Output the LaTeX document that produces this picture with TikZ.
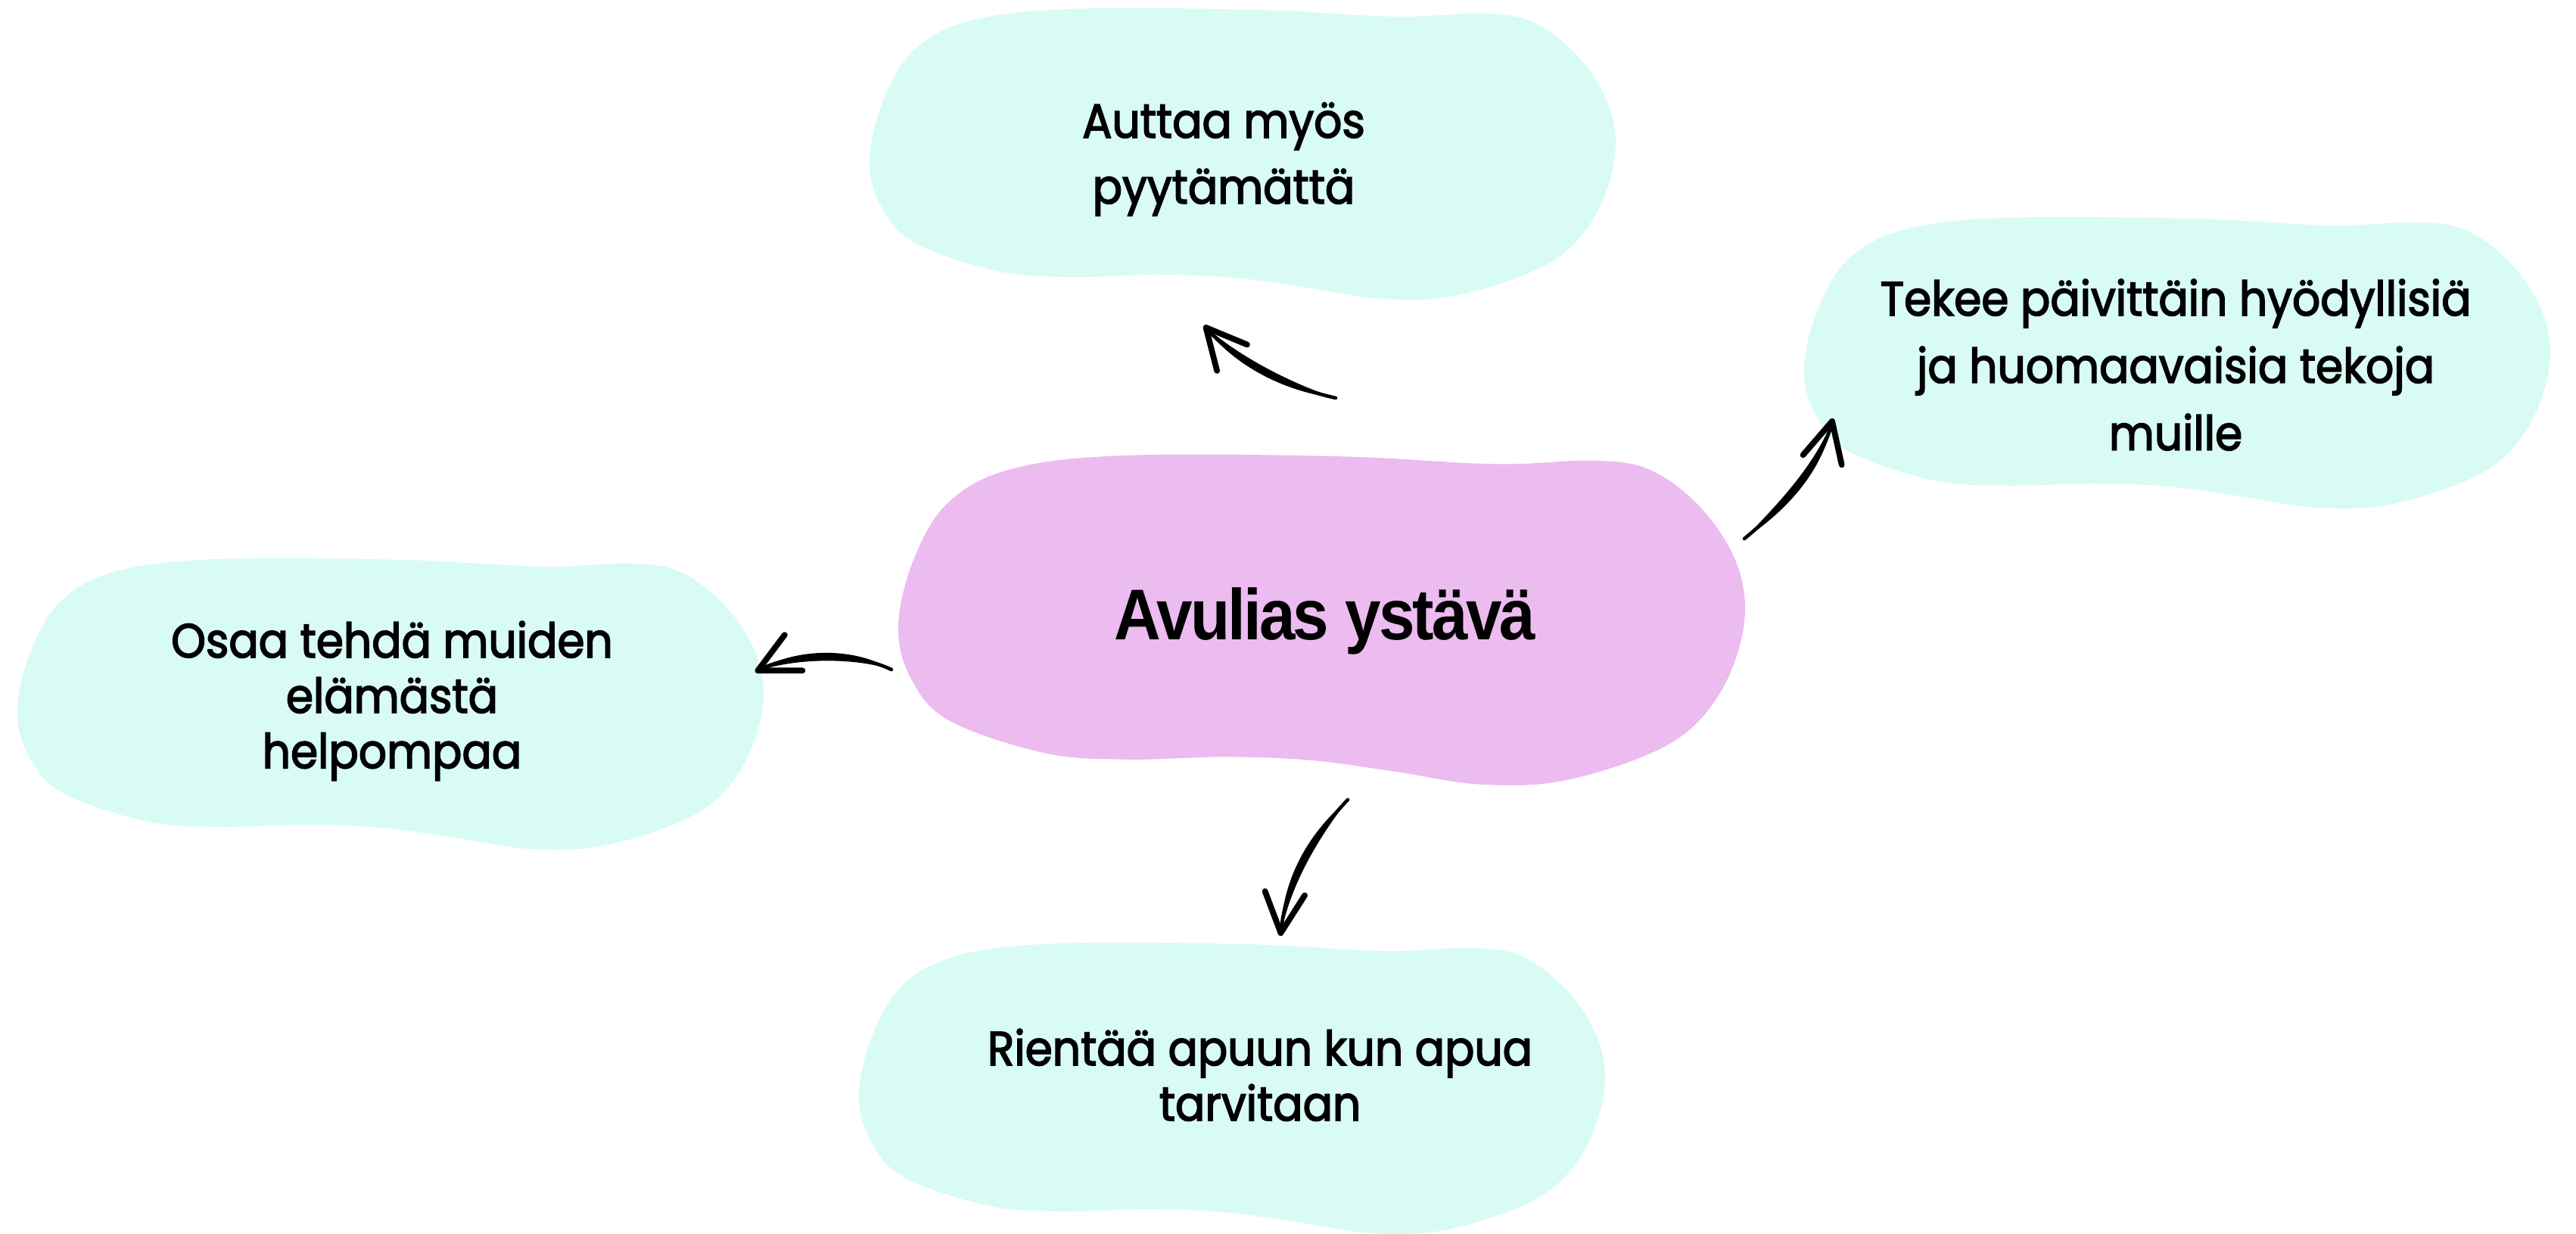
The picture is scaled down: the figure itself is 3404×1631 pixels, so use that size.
\documentclass[tikz,border=0pt]{standalone}
\usepackage{fontspec}
\setmainfont{Poppins}[FakeStretch=0.92,FakeBold=2.5]
\newfontfamily\titlefont{Liberation Sans}[FakeStretch=0.9,LetterSpace=-3]
\usetikzlibrary{arrows.meta}
\definecolor{pinkblob}{RGB}{236,187,239}
\definecolor{cyanblob}{RGB}{216,251,245}
\newcommand\drawblob[4]{%
  \fill[#3,shift={(#1,#2)},scale=#4] plot[smooth cycle,tension=0.6] coordinates {
    (264,0) (511,1) (694,10) (811,6) (878,18) (938,65) (978,131) (984,201)
    (954,281) (894,338) (778,378) (678,383) (578,368) (481,355) (381,351)
    (264,354) (168,346) (58,308) (14,258) (0,198) (18,121) (58,55) (131,16)};}
\tikzset{
  txt/.style={inner sep=0pt, align=center, anchor=north, text=black},
  arr/.style={line width=1.3pt, line cap=round, black,
    -{Straight Barb[length=15pt,width=15pt,round,line width=2.2pt]}},
  taper/.style={fill=black},
}
\begin{document}
\begin{tikzpicture}[x=0.01cm,y=-0.01cm]
\useasboundingbox (0,0) rectangle (3404,1631);
\fill[white] (0,0) rectangle (3404,1631);
% blobs
\drawblob{1149}{12}{cyanblob}{1}
\drawblob{2384}{288}{cyanblob}{1}
\drawblob{23}{739}{cyanblob}{1}
\drawblob{1135}{1247}{cyanblob}{1}
\drawblob{1187}{602}{pinkblob}{1.135}
% texts
\node[txt, font=\fontsize{18}{24.75}\selectfont] (top) at (1617,125)
  {\rule{0pt}{16pt}Auttaa myös\\pyytämättä};
\node[txt, font=\fontsize{18}{25.3}\selectfont] (right) at (2875,360)
  {\rule{0pt}{16pt}Tekee päivittäin hyödyllisiä\\ja huomaavaisia tekoja\\muille};
\node[txt, font=\fontsize{18}{20.8}\selectfont] (left) at (518,812)
  {\rule{0pt}{16pt}Osaa tehdä muiden\\elämästä\\helpompaa};
\node[txt, font=\fontsize{18}{20.8}\selectfont] (bottom) at (1665,1351)
  {\rule{0pt}{16pt}Rientää apuun kun apua\\tarvitaan};
\node[inner sep=0pt, anchor=base, font=\titlefont\bfseries\fontsize{27}{30}\selectfont] (center) at (1751,845) {Avulias ystävä};
% connector ends
\coordinate (tTop) at (1765,526);   \coordinate (hTop) at (1591,430);
\coordinate (tRight) at (2305,712); \coordinate (hRight) at (2422,553);
\coordinate (tLeft) at (1178,885);  \coordinate (hLeft) at (998,888);
\coordinate (tBot) at (1781,1057);  \coordinate (hBot) at (1692,1237);
% tapered bodies
\fill[taper] (tTop) .. controls (1703.4,505.9) and (1633.4,468.9) .. (hTop)
  .. controls (1626.6,481.1) and (1696.6,518.1) .. (tTop) -- cycle;
\fill[taper] (tRight) .. controls (2355.7,679.1) and (2410.7,624.1) .. (hRight)
  .. controls (2399.3,615.9) and (2344.3,670.9) .. (tRight) -- cycle;
\fill[taper] (tLeft) .. controls (1130,869) and (1050,869) .. (hLeft)
  .. controls (1050,855) and (1130,855) .. (tLeft) -- cycle;
\fill[taper] (tBot) .. controls (1746.3,1103.1) and (1706.3,1163.1) .. (hBot)
  .. controls (1693.7,1156.9) and (1733.7,1096.9) .. (tBot) -- cycle;
% arrows
\draw[arr] (tTop) .. controls (1700,512) and (1630,475) .. (hTop);
\draw[arr] (tRight) .. controls (2350,675) and (2405,620) .. (hRight);
\draw[arr] (tLeft) .. controls (1130,862) and (1050,862) .. (hLeft);
\draw[arr] (tBot) .. controls (1740,1100) and (1700,1160) .. (hBot);
\end{tikzpicture}
\end{document}
